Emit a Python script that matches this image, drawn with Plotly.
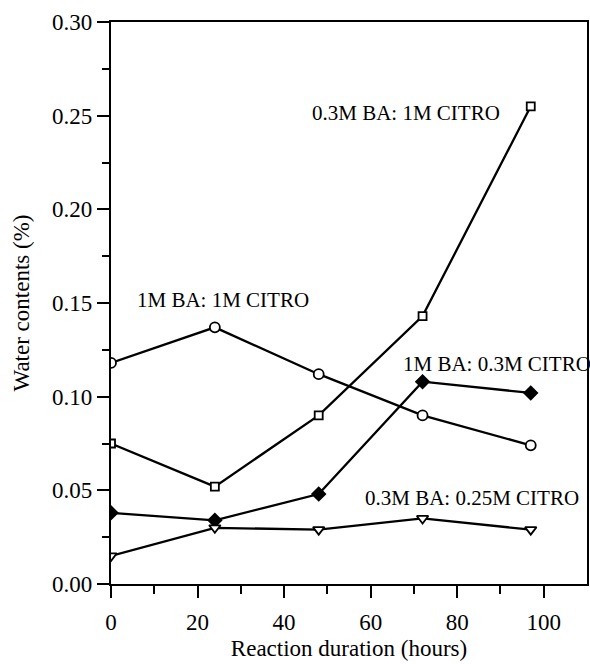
import plotly.graph_objects as go

hours = [0, 24, 48, 72, 97]
ba1_citro1 = [0.118, 0.137, 0.112, 0.090, 0.074]
ba03_citro1 = [0.075, 0.052, 0.090, 0.143, 0.255]
ba1_citro03 = [0.038, 0.034, 0.048, 0.108, 0.102]
ba03_citro025 = [0.015, 0.030, 0.029, 0.035, 0.029]

labels = ["1M BA: 1M CITRO", "0.3M BA: 1M CITRO", "1M BA: 0.3M CITRO", "0.3M BA: 0.25M CITRO"]
label_pos = [(5.5, 0.1517), (46.1, 0.2515), (67.0, 0.1175), (58.3, 0.0459)]

FONT = "Liberation Serif, Times New Roman, serif"

fig = go.Figure()
series = [
    (ba1_citro1, "circle", "white", 10),
    (ba03_citro1, "square", "white", 8),
    (ba1_citro03, "diamond", "black", 10),
    (ba03_citro025, "triangle-down", "white", 10),
]
for ys, sym, fill, sz in series:
    fig.add_trace(go.Scatter(
        x=hours, y=ys, mode="lines+markers",
        line=dict(color="black", width=2.3),
        marker=dict(symbol=sym, size=sz, color=fill, line=dict(color="black", width=1.8)),
        showlegend=False,
    ))

for txt, (ax, ay) in zip(labels, label_pos):
    fig.add_annotation(x=ax, y=ay, text=txt, showarrow=False, xanchor="left", yanchor="middle",
                       font=dict(family=FONT, size=21, color="black"))

fig.update_layout(
    width=590, height=664,
    margin=dict(l=111, r=1, t=22, b=80),
    plot_bgcolor="white", paper_bgcolor="white",
    font=dict(family=FONT, color="black"),
)
fig.update_xaxes(
    range=[0, 110], tickvals=[0, 20, 40, 60, 80, 100],
    ticks="outside", ticklen=12, tickwidth=2, tickcolor="black",
    minor=dict(tickvals=[10, 30, 50, 70, 90], ticks="outside", ticklen=8, tickwidth=2, tickcolor="black"),
    showline=True, linecolor="black", linewidth=2.2, mirror=True,
    showgrid=False, zeroline=False,
    tickfont=dict(family=FONT, size=23), ticklabelstandoff=4,
    title=dict(text="Reaction duration (hours)", font=dict(family=FONT, size=23), standoff=6),
)
fig.update_yaxes(
    range=[0, 0.30], tickvals=[0, 0.05, 0.10, 0.15, 0.20, 0.25, 0.30], tickformat=".2f",
    ticks="outside", ticklen=12, tickwidth=2, tickcolor="black",
    minor=dict(tickvals=[0.025, 0.075, 0.125, 0.175, 0.225, 0.275], ticks="outside", ticklen=7, tickwidth=2, tickcolor="black"),
    showline=True, linecolor="black", linewidth=2.2, mirror=True,
    showgrid=False, zeroline=False,
    tickfont=dict(family=FONT, size=23),
    title=dict(text="Water contents (%)", font=dict(family=FONT, size=23), standoff=16),
)
fig.write_html("out.html")
